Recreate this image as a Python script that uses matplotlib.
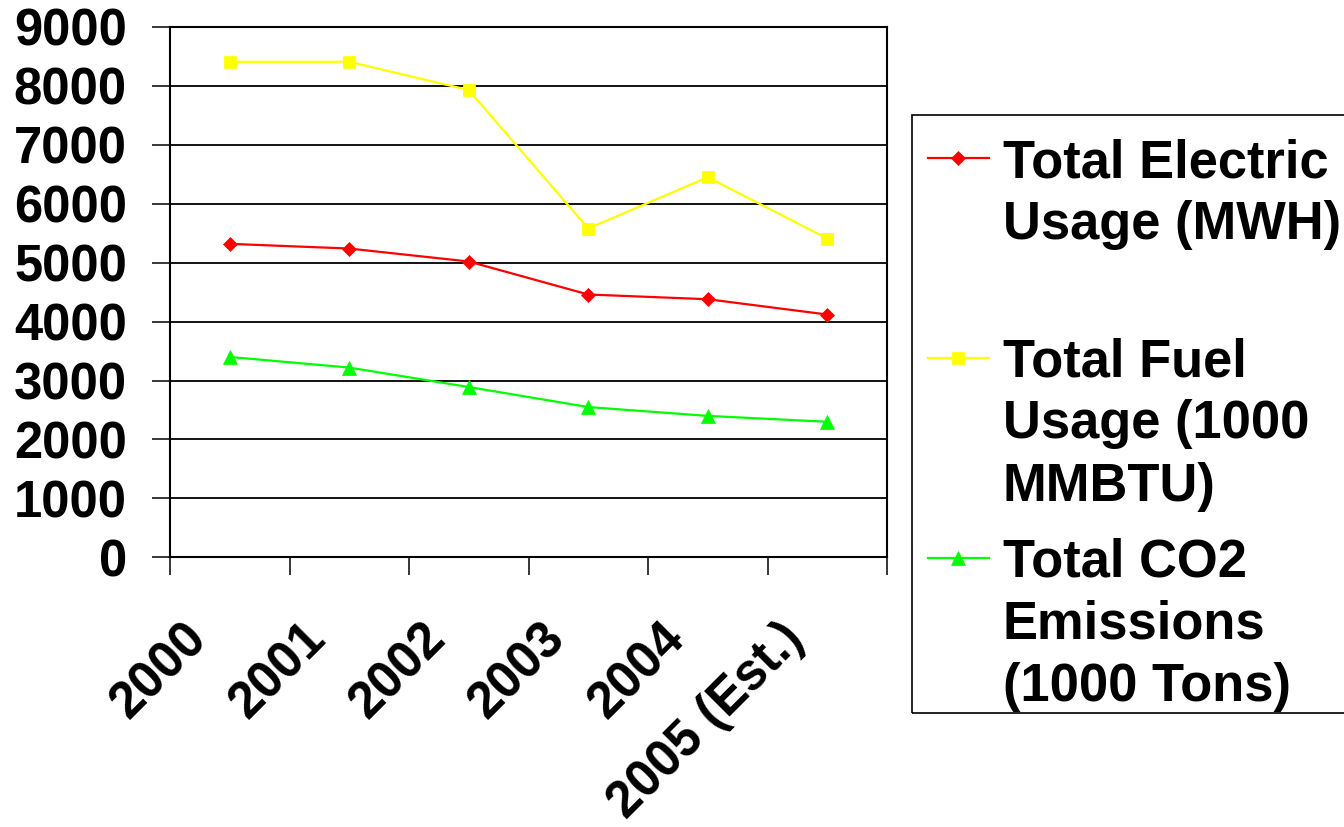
import matplotlib
matplotlib.use("Agg")
import matplotlib.pyplot as plt
from matplotlib.lines import Line2D
from matplotlib.patches import Rectangle

years = ["2000", "2001", "2002", "2003", "2004", "2005 (Est.)"]
electric = [5320, 5240, 5020, 4460, 4380, 4120]
fuel = [8410, 8410, 7930, 5580, 6450, 5410]
co2 = [3400, 3220, 2890, 2550, 2400, 2300]

series_labels = [
    "Total Electric\nUsage (MWH)",
    "Total Fuel\nUsage (1000\nMMBTU)",
    "Total CO2\nEmissions\n(1000 Tons)",
]
series_colors = ["#FF0000", "#FFFF00", "#00FF00"]
series_markers = ["D", "s", "^"]
series_msize = [7.0, 9.0, 10.0]

W, H, DPI = 1344, 827, 100
plt.rcParams["font.family"] = ["Liberation Sans", "DejaVu Sans"]
plt.rcParams["font.weight"] = "bold"
FS = 36.5
LEG_FS = 37.8
PX = 72 / DPI  # points per pixel

fig = plt.figure(figsize=(W / DPI, H / DPI), dpi=DPI)
ax = fig.add_axes([170 / W, 1 - 557.3 / H, (887 - 170) / W, (557.3 - 27) / H])

x = list(range(len(years)))
for vals, col, mk, ms in zip([electric, fuel, co2], series_colors, series_markers, series_msize):
    ax.plot(x, vals, color=col, lw=1.6, marker=mk, ms=ms, mfc=col, mec=col, mew=0.5,
            zorder=3, clip_on=False)

ax.set_xlim(-0.5, len(years) - 0.5)
ax.set_ylim(0, 9000)
ax.set_yticks(range(0, 9001, 1000))
ax.yaxis.grid(True, color="black", lw=1.3)
ax.set_axisbelow(True)

# Tick marks sit on the category boundaries; the year labels are centred on the categories
ax.set_xticks([i - 0.5 for i in range(len(years) + 1)])
ax.set_xticklabels([])
ax.tick_params(axis="x", direction="out", length=13, width=1.1, color="black")
ax.tick_params(axis="y", direction="out", length=13, width=1.1, pad=18, labelsize=FS)
for lab in ax.get_yticklabels():
    lab.set_fontweight("bold")
for xi, yr in zip(x, years):
    ax.annotate(yr, xy=(xi, 0), xycoords=("data", "axes fraction"),
                xytext=(-48 * PX, -57 * PX), textcoords="offset points",
                rotation=45, rotation_mode="anchor", ha="right", va="top",
                fontsize=FS, fontweight="bold", annotation_clip=False)

for side in ["left", "right", "top", "bottom"]:
    ax.spines[side].set_color("black")
    ax.spines[side].set_linewidth(1.5)

# Legend box with entries aligned to the first line of each label
fig.add_artist(Rectangle((911.7 / W, 1 - 713.3 / H), (1360 - 911.7) / W, (713.3 - 114.7) / H,
                         transform=fig.transFigure, fill=False, ec="black", lw=1.2,
                         clip_on=False))
handle_y = [158.3, 357.7, 558.0]
text_top = [138.2, 337.2, 537.2]
for lab, col, mk, ms, hy, ty in zip(series_labels, series_colors, series_markers,
                                    series_msize, handle_y, text_top):
    fig.add_artist(Line2D([928.3 / W, 989.3 / W], [1 - hy / H, 1 - hy / H],
                          transform=fig.transFigure, color=col, lw=1.6))
    fig.add_artist(Line2D([958 / W], [1 - hy / H], transform=fig.transFigure,
                          marker=mk, ms=ms, color=col, mec=col, mew=0.5, lw=0))
    fig.text(1003 / W, 1 - ty / H, lab, ha="left", va="top", fontsize=LEG_FS,
             fontweight="bold", linespacing=1.36 * FS / LEG_FS)

fig.savefig("out.png", dpi=DPI, facecolor="white")
